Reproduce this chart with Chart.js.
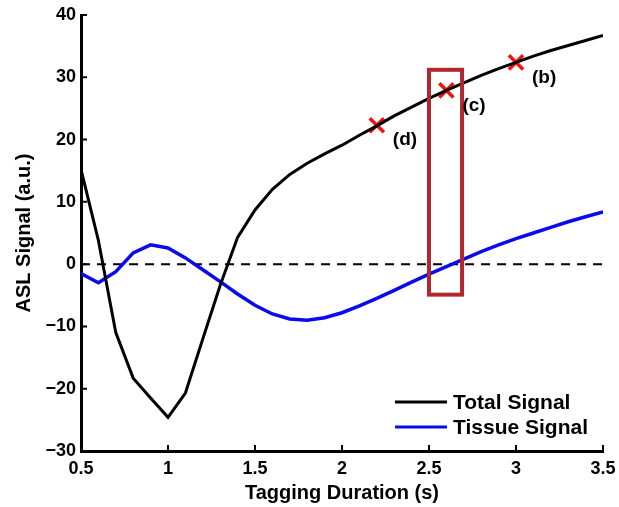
<!DOCTYPE html>
<html><head><meta charset="utf-8">
<script src="https://cdn.jsdelivr.net/npm/chart.js@4.4.1/dist/chart.umd.min.js"></script>
<style>html,body{margin:0;padding:0;background:#fff;overflow:hidden}</style>
</head><body>
<canvas id="c" width="619" height="507"></canvas>
<script>
// ---- data ----
const tagDuration = [0.5,0.6,0.7,0.8,0.9,1.0,1.1,1.2,1.3,1.4,1.5,1.6,1.7,1.8,1.9,2.0,2.1,2.2,2.3,2.4,2.5,2.6,2.7,2.8,2.9,3.0,3.1,3.2,3.3,3.4,3.5];
const totalSignal = [15.2,3.8,-11.0,-18.3,-21.5,-24.6,-20.7,-12.0,-3.4,4.3,8.7,12.0,14.4,16.2,17.7,19.1,20.7,22.2,23.8,25.2,26.6,27.9,29.1,30.3,31.4,32.4,33.4,34.3,35.1,35.9,36.7];
const tissueSignal = [-1.5,-3.0,-1.2,1.8,3.1,2.6,1.0,-0.9,-2.8,-4.8,-6.6,-8.0,-8.8,-9.0,-8.6,-7.8,-6.7,-5.5,-4.2,-2.9,-1.6,-0.4,0.8,2.0,3.1,4.1,5.0,5.9,6.8,7.6,8.4];
const seriesNames = ['Total Signal','Tissue Signal'];
const markDuration = [2.2,2.6,3.0];
const markSignal = [22.3,27.9,32.4];
const markLabels = ['(d)','(c)','(b)'];
const boxDuration = [2.5,2.69];
const boxSignal = [-4.9,31.2];
const xTicks = [0.5,1,1.5,2,2.5,3,3.5];
const yTicks = [-30,-20,-10,0,10,20,30,40];
const zeroLevel = 0;

const FONT = '"Liberation Sans", Arial, Helvetica, sans-serif';

const decorPlugin = {
  id: 'decor',
  beforeDatasetsDraw(chart) {
    const {ctx, chartArea: a, scales: {x, y}} = chart;
    ctx.save();
    const yz = y.getPixelForValue(zeroLevel);
    ctx.strokeStyle = '#000';
    ctx.lineWidth = 2;
    ctx.setLineDash([9, 7]);
    ctx.beginPath(); ctx.moveTo(a.left, yz); ctx.lineTo(a.right, yz); ctx.stroke();
    ctx.setLineDash([]);
    ctx.restore();
  },
  afterDatasetsDraw(chart) {
    const {ctx, chartArea: a, scales: {x, y}} = chart;
    ctx.save();
    const bx0 = x.getPixelForValue(boxDuration[0]), bx1 = x.getPixelForValue(boxDuration[1]);
    const by0 = y.getPixelForValue(boxSignal[1]), by1 = y.getPixelForValue(boxSignal[0]);
    ctx.strokeStyle = '#b3262e';
    ctx.lineWidth = 4;
    ctx.strokeRect(bx0, by0, bx1 - bx0, by1 - by0);
    ctx.fillStyle = '#000';
    ctx.font = 'bold 19px ' + FONT;
    ctx.textAlign = 'left';
    ctx.textBaseline = 'middle';
    markLabels.forEach((t, i) => {
      const px = x.getPixelForValue(markDuration[i]);
      const py = y.getPixelForValue(markSignal[i]);
      ctx.fillText(t, px + 16, py + 15);
    });
    ctx.restore();
  },
  afterDraw(chart) {
    const {ctx, chartArea: a, scales: {x, y}} = chart;
    ctx.save();
    ctx.strokeStyle = '#000';
    ctx.lineWidth = 2;
    ctx.beginPath();
    xTicks.forEach(v => { const px = x.getPixelForValue(v); ctx.moveTo(px, a.bottom); ctx.lineTo(px, a.bottom - 6); });
    yTicks.forEach(v => { const py = y.getPixelForValue(v); ctx.moveTo(a.left, py); ctx.lineTo(a.left + 6, py); });
    ctx.stroke();
    const ds = chart.data.datasets;
    ctx.font = 'bold 21px ' + FONT;
    ctx.textAlign = 'left';
    ctx.textBaseline = 'middle';
    [0, 1].forEach(i => {
      const ly = a.bottom - 49 + i * 25;
      ctx.strokeStyle = ds[i].borderColor;
      ctx.lineWidth = 3;
      ctx.beginPath(); ctx.moveTo(a.right - 208, ly); ctx.lineTo(a.right - 156, ly); ctx.stroke();
      ctx.fillStyle = '#000';
      ctx.fillText(ds[i].label, a.right - 150, ly + 1);
    });
    ctx.restore();
  }
};

new Chart(document.getElementById('c'), {
  type: 'line',
  data: {
    datasets: [
      { label: seriesNames[0], data: tagDuration.map((t, i) => ({x: t, y: totalSignal[i]})),
        borderColor: '#000000', borderWidth: 3, pointRadius: 0, tension: 0, fill: false },
      { label: seriesNames[1], data: tagDuration.map((t, i) => ({x: t, y: tissueSignal[i]})),
        borderColor: '#0a0aee', borderWidth: 3.5, pointRadius: 0, tension: 0, fill: false },
      { type: 'scatter', label: 'marks', data: markDuration.map((t, i) => ({x: t, y: markSignal[i]})),
        pointStyle: 'crossRot', pointRadius: 10, borderWidth: 3.5, borderColor: '#f41010', backgroundColor: '#f41010' }
    ]
  },
  options: {
    responsive: false,
    animation: false,
    devicePixelRatio: 1,
    layout: { padding: { left: 0, top: 15, right: 16, bottom: 0 } },
    plugins: { legend: { display: false }, tooltip: { enabled: false } },
    scales: {
      x: {
        type: 'linear', min: 0.5, max: 3.5,
        afterBuildTicks: s => { s.ticks = xTicks.map(v => ({value: v})); },
        afterFit: s => { s.height = 56; s.paddingRight = 0; s.paddingLeft = 0; },
        grid: { display: true, drawOnChartArea: false, drawTicks: false },
        border: { display: true, color: '#000', width: 3 },
        ticks: { color: '#000', font: { family: FONT, size: 18, weight: 'bold' }, padding: 7, maxRotation: 0,
                 callback: v => String(v) },
        title: { display: true, text: 'Tagging Duration (s)', color: '#000',
                 font: { family: FONT, size: 20, weight: 'bold' }, padding: { top: 0, bottom: 2 } }
      },
      y: {
        type: 'linear', min: -30, max: 40,
        afterBuildTicks: s => { s.ticks = yTicks.map(v => ({value: v})); },
        afterFit: s => { s.width = 81; s.paddingTop = 0; s.paddingBottom = 0; },
        grid: { display: true, drawOnChartArea: false, drawTicks: false },
        border: { display: true, color: '#000', width: 3 },
        ticks: { color: '#000', font: { family: FONT, size: 18, weight: 'bold' }, padding: 5,
                 callback: v => String(v).replace('-', '\u2212') },
        title: { display: true, text: 'ASL Signal (a.u.)', color: '#000',
                 font: { family: FONT, size: 20, weight: 'bold' }, padding: { top: 12, bottom: 0 } }
      }
    }
  },
  plugins: [decorPlugin]
});
</script>
</body></html>
